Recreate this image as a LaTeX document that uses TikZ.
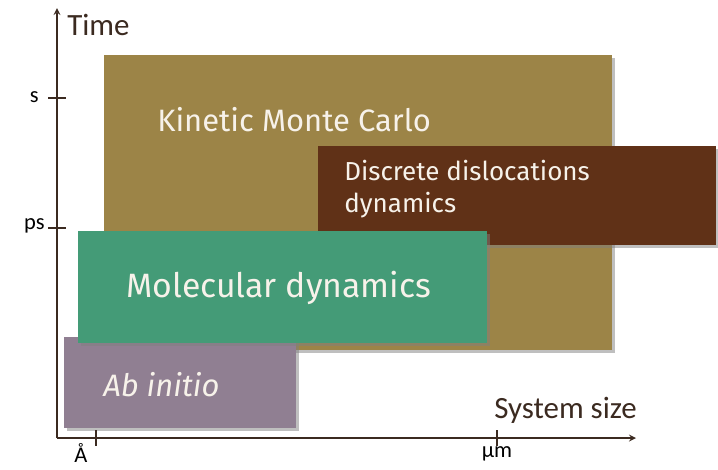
\documentclass[tikz,border=0pt]{standalone}
\usepackage{fontspec}
\setmainfont{Fira Sans}
\newfontfamily\axisfont{Carlito}
\usetikzlibrary{arrows, shadows}

\definecolor{kmcColor}{HTML}{9C8447}
\definecolor{ddColor}{HTML}{603117}
\definecolor{mdColor}{HTML}{449B77}
\definecolor{abColor}{HTML}{907F92}
\definecolor{axisColor}{HTML}{3B2A20}
\definecolor{boxText}{HTML}{F7F2EA}

\begin{document}
\begin{tikzpicture}[x=0.025cm, y=-0.025cm]
			\tikzstyle{Box} = [rectangle, anchor=north west, inner sep=0, draw=none, drop shadow={shadow xshift=0.6mm, shadow yshift=-0.6mm, opacity=0.5}]
			\tikzstyle{BoxLabel} = [anchor=west, inner sep=0, text=boxText]
			\tikzstyle{AxisLabel} = [anchor=west, inner sep=0, text=axisColor, font=\axisfont\fontsize{22}{26}\selectfont]
			\tikzstyle{TickLabel} = [inner sep=0, font=\axisfont\fontsize{16}{19}\selectfont]
			\tikzstyle{arrow} = [line width=1.2pt, draw=axisColor, -stealth]
			\tikzstyle{tick} = [line width=1.2pt, draw=axisColor]
			
			\useasboundingbox (0,0) rectangle (718,469);
			
			\node (kmc) [Box, fill=kmcColor, minimum width=12.7cm, minimum height=7.375cm] at (104,55) {};
			\node (dd) [Box, fill=ddColor, minimum width=9.95cm, minimum height=2.475cm] at (318,146) {};
			\node (ab) [Box, fill=abColor, minimum width=5.8cm, minimum height=2.275cm] at (64,337) {};
			\node (md) [Box, fill=mdColor, minimum width=10.225cm, minimum height=2.8cm] at (78,231) {};
			
			\node (kmcLabel) [BoxLabel, font=\fontsize{22}{26}\selectfont] at (157,120) {Kinetic Monte Carlo};
			\node (ddLabel) [BoxLabel, align=left, font=\fontsize{18.5}{23}\selectfont] at (344,189) {Discrete dislocations\\dynamics};
			\node (mdLabel) [BoxLabel, font=\fontsize{24}{29}\selectfont] at (126,288) {Molecular dynamics};
			\node (abLabel) [BoxLabel, font=\fontsize{22}{26}\selectfont\itshape] at (103,385) {Ab initio};
			
			\coordinate (origin) at (57,438);
			\coordinate (timeTip) at (57,8);
			\coordinate (sizeTip) at (636,438);
			\draw[arrow] (origin) -- (timeTip);
			\draw[arrow] (origin) -- (sizeTip);
			
			\node (timeLabel) [AxisLabel] at (67,25) {Time};
			\node (sizeLabel) [AxisLabel] at (494,410) {System size};
			
			% ticks
			\foreach \y in {98, 228}
				\draw[tick] (48,\y) -- (66,\y);
			\foreach \x in {96, 497}
				\draw[tick] (\x,430) -- (\x,446);
			\node (sTick) [TickLabel, anchor=east] at (39,97) {s};
			\node (psTick) [TickLabel, anchor=east] at (45,226) {ps};
			\node (angTick) [TickLabel] at (81,453) {Å};
			\node (umTick) [TickLabel] at (497,454) {μm};
		\end{tikzpicture}
\end{document}
